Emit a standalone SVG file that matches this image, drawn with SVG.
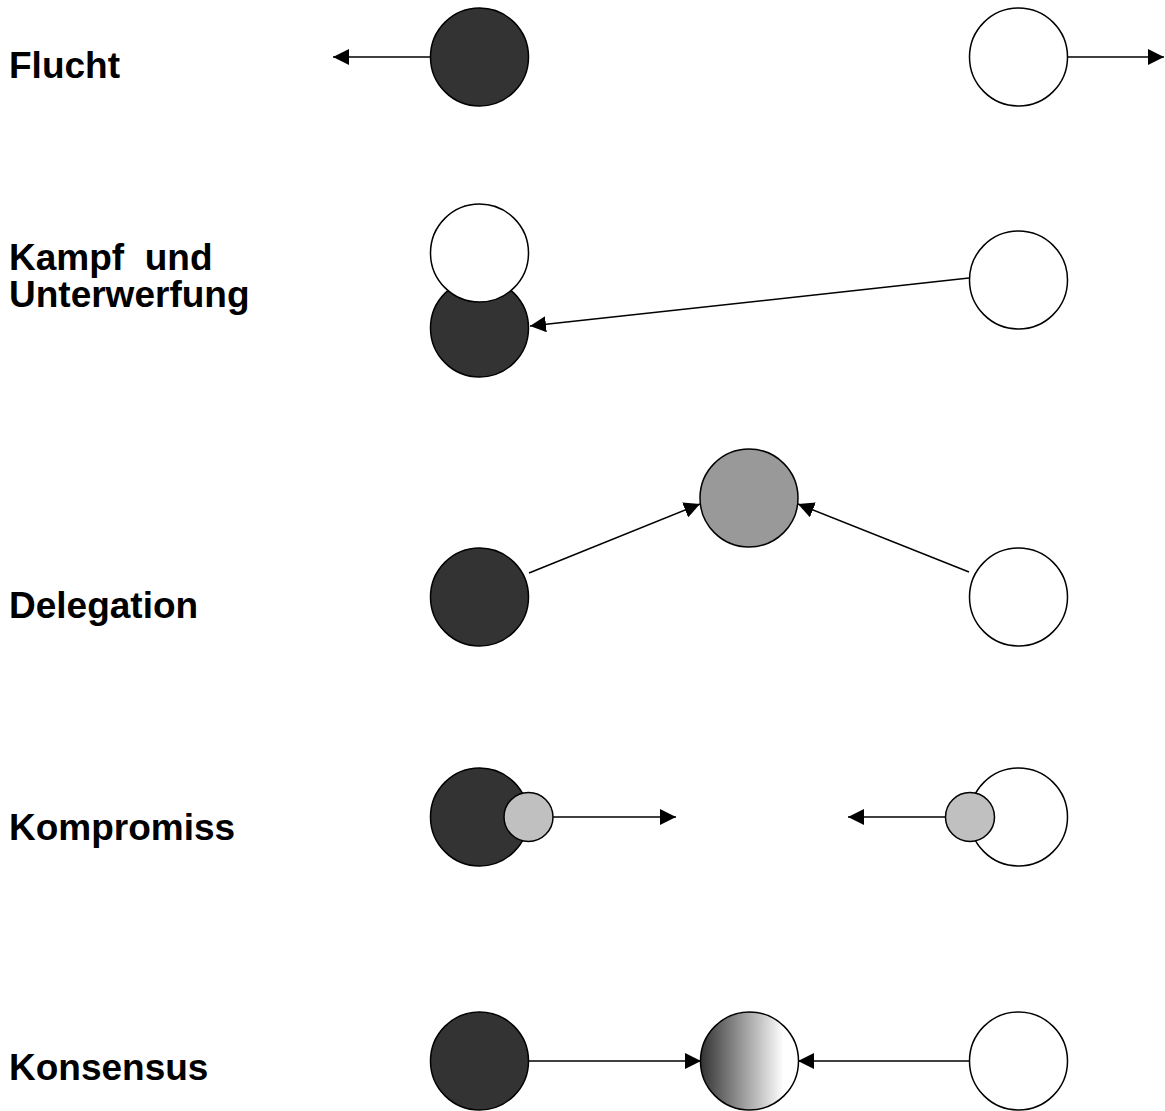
<svg xmlns="http://www.w3.org/2000/svg" width="1165" height="1111" viewBox="0 0 1165 1111">
<style>
.lbl{font-family:"Liberation Sans",Arial,sans-serif;font-weight:bold;font-size:37px;fill:#000;white-space:pre}
.c{stroke:#000;stroke-width:1.5}
.dark{fill:#333}
.white{fill:#fff}
.gray{fill:#999}
.lgray{fill:#c0c0c0}
.ln{stroke:#000;stroke-width:1.5;fill:none;marker-end:url(#ah)}
</style>
<defs>
<marker id="ah" markerUnits="userSpaceOnUse" markerWidth="17" markerHeight="16" refX="16" refY="8" orient="auto" viewBox="0 0 17 16">
<path d="M0,0 L16,8 L0,16 z" fill="#000"/>
</marker>
<linearGradient id="grad" x1="0" y1="0" x2="1" y2="0">
<stop offset="0" stop-color="#333"/>
<stop offset="0.85" stop-color="#fff"/>
<stop offset="1" stop-color="#fff"/>
</linearGradient>
</defs>
<g id="labels">
<text class="lbl" x="9" y="78">Flucht</text>
<text class="lbl" x="9" y="270" xml:space="preserve">Kampf  und</text>
<text class="lbl" x="9" y="307">Unterwerfung</text>
<text class="lbl" x="9" y="618">Delegation</text>
<text class="lbl" x="9" y="840">Kompromiss</text>
<text class="lbl" x="9" y="1080">Konsensus</text>
</g>
<g id="connectors">
<line class="ln" x1="430" y1="57" x2="333" y2="57"/>
<line class="ln" x1="1068" y1="57" x2="1164" y2="57"/>
<line class="ln" x1="969" y1="278" x2="530" y2="326"/>
<line class="ln" x1="529" y1="573" x2="700" y2="504"/>
<line class="ln" x1="969" y1="572" x2="798" y2="504"/>
<line class="ln" x1="553" y1="817" x2="676" y2="817"/>
<line class="ln" x1="945" y1="817" x2="848" y2="817"/>
<line class="ln" x1="529" y1="1061" x2="701" y2="1061"/>
<line class="ln" x1="969" y1="1061" x2="798" y2="1061"/>
</g>
<g id="flucht-a"><circle class="c dark" cx="479.5" cy="57" r="49"/></g>
<g id="flucht-b"><circle class="c white" cx="1018.5" cy="57" r="49"/></g>
<g id="kampf-b-dark"><circle class="c dark" cx="479.5" cy="328" r="49"/></g>
<g id="kampf-a-white"><circle class="c white" cx="479.5" cy="253" r="49"/></g>
<g id="kampf-c"><circle class="c white" cx="1018.5" cy="280" r="49"/></g>
<g id="delegation-mid"><circle class="c gray" cx="749" cy="498" r="49"/></g>
<g id="delegation-a"><circle class="c dark" cx="479.5" cy="597" r="49"/></g>
<g id="delegation-b"><circle class="c white" cx="1018.5" cy="597" r="49"/></g>
<g id="kompromiss-a"><circle class="c dark" cx="479.5" cy="817" r="49"/><circle class="c lgray" cx="528.5" cy="817" r="24.5"/></g>
<g id="kompromiss-b"><circle class="c white" cx="1018.5" cy="817" r="49"/><circle class="c lgray" cx="970" cy="817" r="24.5"/></g>
<g id="konsensus-a"><circle class="c dark" cx="479.5" cy="1061" r="49"/></g>
<g id="konsensus-mid"><circle class="c" fill="url(#grad)" cx="749.5" cy="1061" r="49"/></g>
<g id="konsensus-b"><circle class="c white" cx="1018.5" cy="1061" r="49"/></g>
</svg>
